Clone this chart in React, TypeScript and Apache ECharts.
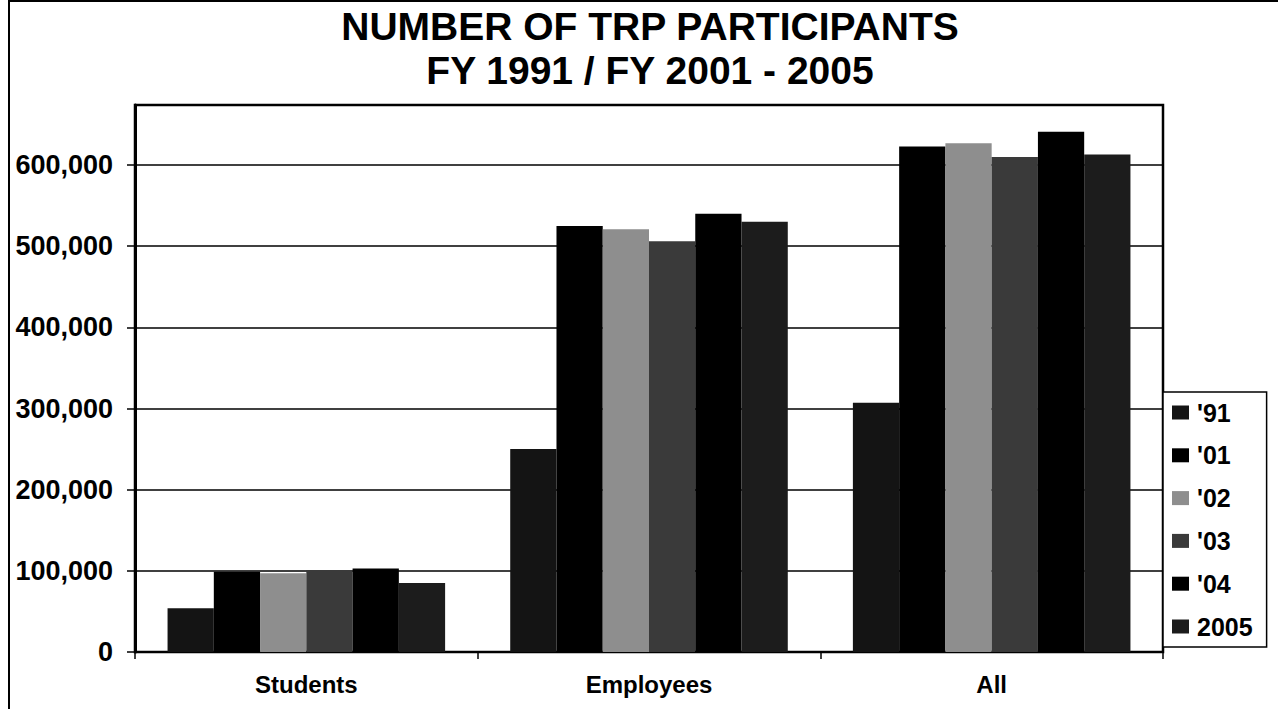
import React, { useEffect, useRef } from "react";
import * as echarts from "echarts";

const categories = ["Students", "Employees", "All"];
const seriesNames = ["'91", "'01", "'02", "'03", "'04", "2005"];
const v91 = [54000, 250000, 307000];
const v01 = [99000, 525000, 623000];
const v02 = [97000, 521000, 627000];
const v03 = [101000, 506000, 610000];
const v04 = [103000, 540000, 641000];
const v05 = [85000, 530000, 613000];
const seriesValues = [v91, v01, v02, v03, v04, v05];
const seriesColors = ["#141414", "#000000", "#8e8e8e", "#3a3a3a", "#000000", "#1c1c1c"];
const titleLines = ["NUMBER OF TRP PARTICIPANTS", "FY 1991 / FY 2001 - 2005"];

const FONT = "Arial, 'Liberation Sans', Helvetica, sans-serif";

export default function App() {
  const ref = useRef<HTMLDivElement>(null);
  useEffect(() => {
    if (!ref.current) return;
    const chart = echarts.init(ref.current, null, { renderer: "svg" });
    chart.setOption({
      animation: false,
      backgroundColor: "#ffffff",
      title: {
        text: titleLines.join("\n"),
        left: 650,
        top: 4,
        padding: 0,
        textAlign: "center",
        textStyle: {
          fontFamily: FONT,
          fontSize: 39,
          fontWeight: "bold",
          color: "#000",
          lineHeight: 44,
        },
      },
      grid: {
        left: 135,
        right: 115,
        top: 105,
        bottom: 57,
        show: true,
        borderColor: "#000",
        borderWidth: 2.5,
        backgroundColor: "transparent",
      },
      legend: {
        orient: "vertical",
        left: 1163,
        top: 392,
        padding: [8, 14, 8, 9],
        itemGap: 17.8,
        itemWidth: 17,
        itemHeight: 14,
        icon: "rect",
        borderColor: "#000",
        borderWidth: 1.5,
        backgroundColor: "#fff",
        data: seriesNames,
        textStyle: {
          fontFamily: FONT,
          fontSize: 25,
          fontWeight: "bold",
          color: "#000",
          lineHeight: 21,
          padding: [0, 0, 0, 3],
        },
      },
      xAxis: {
        type: "category",
        data: categories,
        axisLine: { lineStyle: { color: "#000", width: 2 } },
        axisTick: { show: true, length: 7, lineStyle: { color: "#000", width: 1.5 } },
        axisLabel: {
          margin: 20,
          fontFamily: FONT,
          fontSize: 24,
          fontWeight: "bold",
          color: "#000",
        },
      },
      yAxis: {
        type: "value",
        min: 0,
        max: 674000,
        interval: 100000,
        axisLine: { show: true, lineStyle: { color: "#000", width: 3 } },
        axisTick: { show: true, length: 8, lineStyle: { color: "#000", width: 1.5 } },
        splitLine: { show: true, lineStyle: { color: "#000", width: 1.5 } },
        axisLabel: {
          margin: 22,
          fontFamily: FONT,
          fontSize: 27,
          fontWeight: "bold",
          color: "#000",
          showMaxLabel: false,
          formatter: (v: number) =>
            v % 100000 === 0 ? v.toLocaleString("en-US") : "",
        },
      },
      series: seriesNames.map((name, i) => ({
        name,
        type: "bar",
        data: seriesValues[i],
        barGap: "0%",
        barCategoryGap: "19%",
        itemStyle: { color: seriesColors[i] },
      })),
      graphic: [
        {
          type: "line",
          shape: { x1: 9, y1: 0, x2: 9, y2: 709 },
          style: { stroke: "#000", lineWidth: 2 },
        },
        {
          type: "line",
          shape: { x1: 9, y1: 1, x2: 1278, y2: 1 },
          style: { stroke: "#000", lineWidth: 2 },
        },
      ],
    });
    return () => chart.dispose();
  }, []);
  return <div ref={ref} style={{ width: 1278, height: 709, position: "absolute", left: 0, top: 0 }} />;
}
